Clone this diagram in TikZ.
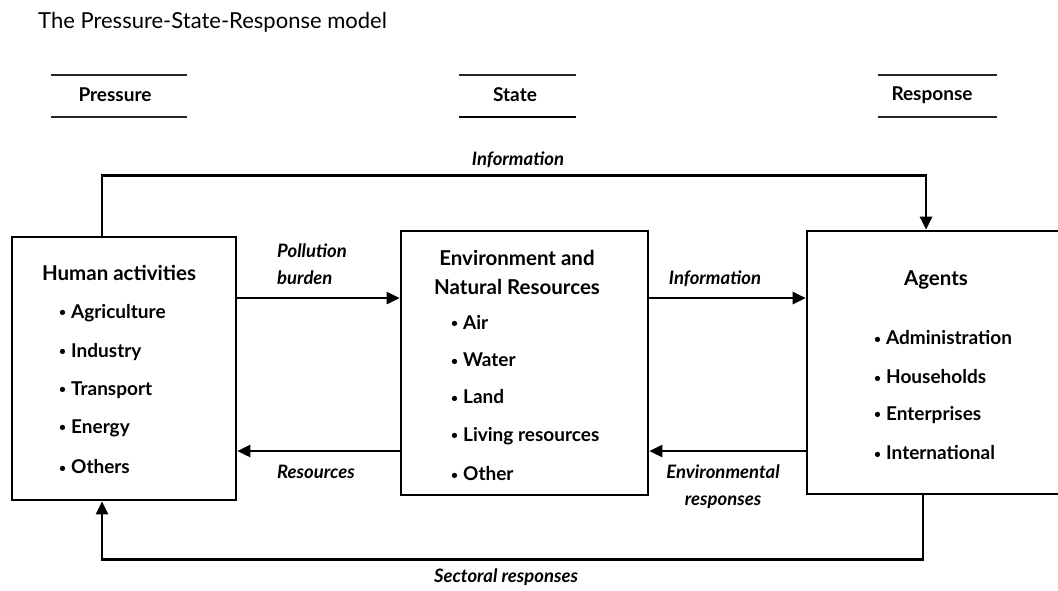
\documentclass[tikz,border=0pt]{standalone}
\usepackage{fontspec}
\setmainfont{Lato}
\usepackage{tikz}
\usetikzlibrary{arrows.meta}

\newcommand{\bul}{\raisebox{1.5pt}{\fontsize{12}{12}\selectfont\textbullet}\hspace{5pt}}

\tikzset{
  box/.style={draw, rectangle, line width=2.6pt, inner sep=0pt},
  flow/.style={line width=2.6pt, -{Triangle[length=13pt,width=12pt]}},
  head/.style={font=\bfseries\fontsize{19}{29}\selectfont, inner sep=0pt},
  boxhead/.style={font=\bfseries\fontsize{20.5}{29}\selectfont, inner sep=0pt},
  item/.style={anchor=west, font=\bfseries\fontsize{19}{22}\selectfont, inner sep=0pt},
  lab/.style={font=\bfseries\itshape\fontsize{18.5}{27}\selectfont, inner sep=0pt, align=center},
  rule/.style={line width=1.4pt, draw=black!85}
}

\begin{document}
\begin{tikzpicture}[x=1pt,y=-1pt]
 \path[use as bounding box] (0,0) rectangle (1058,590);
\node[anchor=base west, inner sep=0pt, font=\fontsize{22}{26}\selectfont] (title) at (38,28) {The Pressure-State-Response model};

\foreach \n/\x/\l/\r/\t in {pres/115/51/187/Pressure, stat/515/459/576/State, resp/932/878/997/Response}{
	\node[head] (\n) at (\x,95) {\t};
	\draw[rule] (\l,75) -- (\r,75);
	\draw[rule] (\l,117) -- (\r,117);
}
\draw[line width=2.4pt] (459,117) -- (576,117);

\node[box, minimum width=224pt, minimum height=263pt] (hum) at (124,368.5) {};
\node[box, minimum width=247pt, minimum height=264pt] (env) at (524.5,363) {};
\node[box, minimum width=262pt, minimum height=263pt] (agt) at (938,362.5) {};

\node[boxhead] (humt) at (119,273) {Human activities};
\foreach \t/\y in {Agriculture/313, Industry/352, Transport/390, Energy/428, Others/467}
	\node[item] (h-\y) at (59,\y) {\bul\t};

\node[boxhead, align=center] (envt) at (517,272) {Environment and\\Natural Resources};
\foreach \t/\y in {Air/322, Water/360, Land/397, Living resources/436, Other/474}
	\node[item] (e-\y) at (451,\y) {\bul\t};

\node[boxhead] (agtt) at (936,280) {Agents};
\foreach \t/\y in {Administration/338, Households/377, Enterprises/415, International/453}
	\node[item] (a-\y) at (874,\y) {\bul\t};

\draw[flow] ([yshift=70.5pt]hum.east) -- ([yshift=65pt]env.west);
\draw[flow] ([yshift=-88pt]env.west) -- ([yshift=-82.5pt]hum.east);
\draw[flow] ([yshift=65pt]env.east) -- ([yshift=64.5pt]agt.west);
\draw[flow] ([yshift=-88.5pt]agt.west) -- ([yshift=-88pt]env.east);
\draw[flow] ([xshift=-22pt]hum.north) -- ++(0,-60) -| ([xshift=-12pt]agt.north);
\draw[flow] ([xshift=-15pt]agt.south) -- ++(0,64) -| ([xshift=-22pt]hum.south);

\node[lab] (topinfo) at (518,160) {Information};
\node[lab, anchor=west, align=left] (poll) at (277,264) {Pollution\\burden};
\node[lab] (res) at (316,472) {Resources};
\node[lab] (info) at (715,279) {Information};
\node[lab] (envr) at (723,487) {Environmental\\responses};
\node[lab] (sect) at (506,577) {Sectoral responses};

\end{tikzpicture}
\end{document}
